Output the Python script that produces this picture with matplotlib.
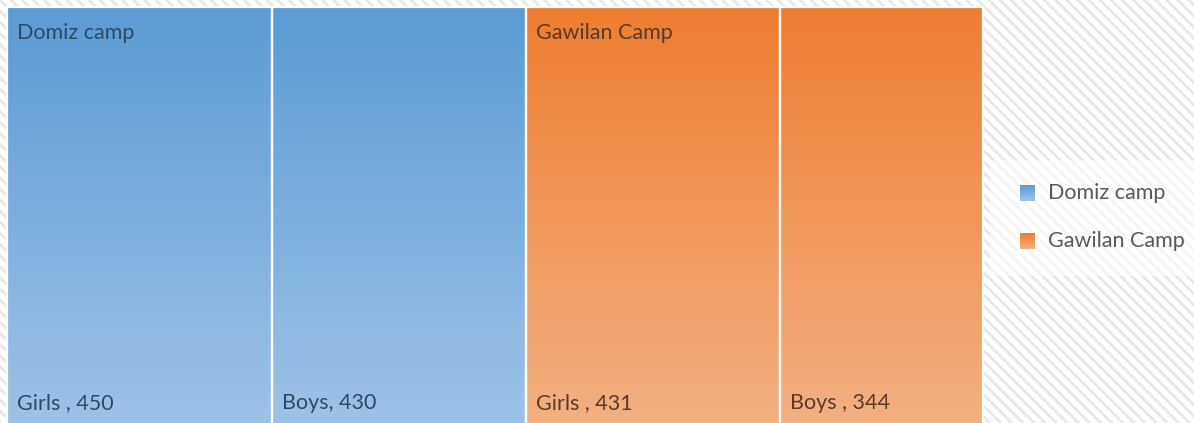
import numpy as np
import matplotlib.pyplot as plt
from matplotlib.patches import Rectangle
import matplotlib.colors as mcolors

# Donnees
camps = ['Domiz camp', 'Gawilan Camp']
leaf_names = [['Girls , 450', 'Boys, 430'], ['Girls , 431', 'Boys , 344']]
leaf_values = [[450, 430], [431, 344]]
top_colors = ['#5B9BD5', '#ED7D31']
bottom_colors = ['#9EC3E7', '#F4B183']
text_colors = ['#2F4A66', '#5A3A28']

plt.rcParams['font.family'] = ['Lato', 'DejaVu Sans']
plt.rcParams['hatch.linewidth'] = 2.0

W, H = 1194, 423
fig = plt.figure(figsize=(W / 100, H / 100), dpi=100)
ax = fig.add_axes([0, 0, 1, 1])
ax.axis('off')

# fond hachure
ax.add_patch(Rectangle((0, 0), W, H, facecolor='white', edgecolor='#E8E8E8',
                       hatch='\\\\\\', lw=0, zorder=0))

# zone du treemap
x0, x1, y0, y1 = 7, 983, 7, 430
total = sum(sum(v) for v in leaf_values)
x = x0
for i, camp in enumerate(camps):
    gw = (x1 - x0) * sum(leaf_values[i]) / total
    cmap = mcolors.LinearSegmentedColormap.from_list('g', [top_colors[i], bottom_colors[i]])
    grad = np.linspace(0, 1, 256).reshape(-1, 1)
    xl = x
    for j, v in enumerate(leaf_values[i]):
        lw_ = gw * v / sum(leaf_values[i])
        ax.imshow(grad, cmap=cmap, aspect='auto', extent=(xl, xl + lw_, y1, y0),
                  interpolation='bilinear', zorder=1)
        ax.add_patch(Rectangle((xl, y0), lw_, y1 - y0, fill=False,
                               edgecolor='white', lw=1.6, zorder=2))
        ax.text(xl + 10, 403, leaf_names[i][j], fontsize=15.5, color=text_colors[i],
                va='center', ha='left', zorder=3)
        xl += lw_
    ax.text(x + 10, 33, camp, fontsize=15.5, color=text_colors[i],
            va='center', ha='left', zorder=3)
    x += gw

# legende
ax.add_patch(Rectangle((990, 160), 204, 116, facecolor='white', alpha=0.6,
                       lw=0, zorder=2))
leg_y = [193, 241]
for i, camp in enumerate(camps):
    cmap = mcolors.LinearSegmentedColormap.from_list('g', [top_colors[i], bottom_colors[i]])
    ax.imshow(np.linspace(0, 1, 32).reshape(-1, 1), cmap=cmap, aspect='auto',
              extent=(1020, 1035, leg_y[i] + 8, leg_y[i] - 8), zorder=3)
    ax.text(1048, leg_y[i], camp, fontsize=15.5, color='#595959', va='center',
            ha='left', zorder=3)

ax.set_xlim(0, W)
ax.set_ylim(H, 0)
fig.savefig('out.png', dpi=100)
